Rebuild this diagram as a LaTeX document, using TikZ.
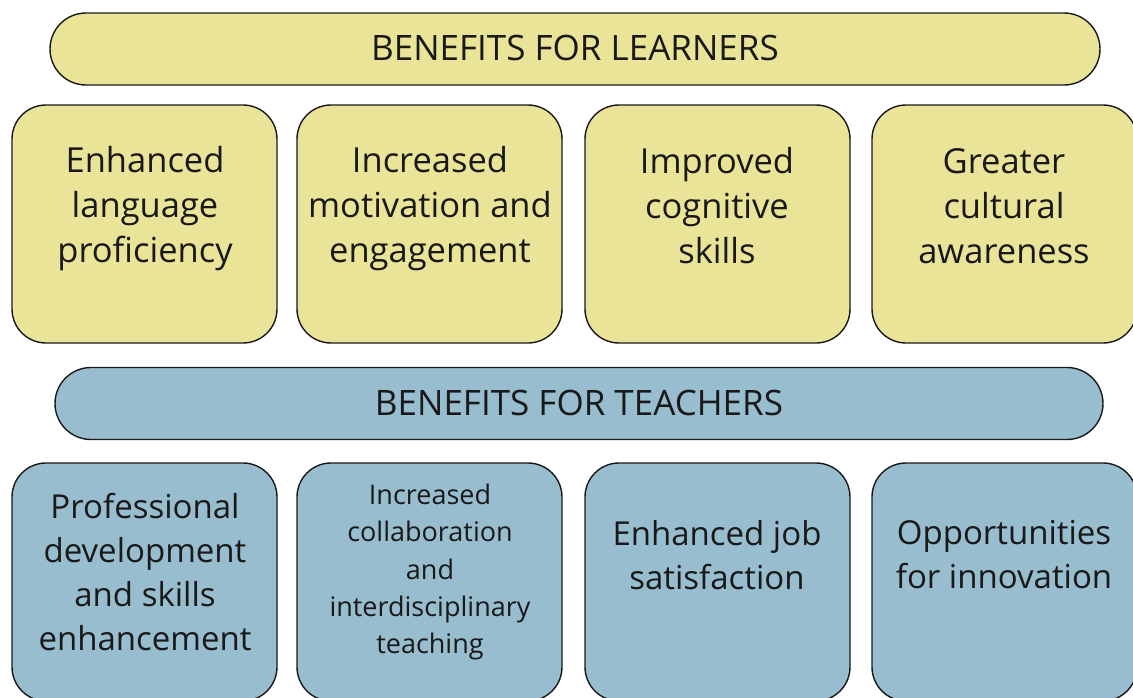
\documentclass[tikz,border=0pt]{standalone}
\usepackage{fontspec}
\setmainfont{Open Sans}
\definecolor{ylw}{RGB}{234,228,153}
\definecolor{blu}{RGB}{151,189,206}
\definecolor{ink}{RGB}{25,25,25}
\tikzset{
  banner/.style={draw=ink, line width=1.4pt, rounded corners=36pt, minimum width=#1, minimum height=72pt, inner sep=0pt},
  card/.style={draw=ink, line width=1.4pt, rounded corners=34pt, minimum width=265pt, minimum height=238pt, inner sep=0pt},
  bigtxt/.style={text=ink, align=center, font=\fontsize{34.5}{45}\selectfont, inner sep=0pt},
  midtxt/.style={text=ink, align=center, font=\fontsize{33}{44}\selectfont, inner sep=0pt},
  smalltxt/.style={text=ink, align=center, font=\fontsize{27}{37.2}\selectfont, inner sep=0pt},
  headtxt/.style={text=ink, font=\fontsize{35}{40}\selectfont, inner sep=0pt}
}
\begin{document}
\begin{tikzpicture}[x=1pt,y=-1pt]
\useasboundingbox (0,0) rectangle (1133,697);
\fill[white] (0,0) rectangle (1133,697);
% learners
\node[banner=1050pt, fill=ylw] (bl) at (575,49) {};
\node[headtxt] (blt) at (575,48) {BENEFITS FOR LEARNERS};
\node[card, fill=ylw] (l1) at (144.5,224) {};
\node[card, fill=ylw] (l2) at (429.5,224) {};
\node[card, fill=ylw] (l3) at (717.5,224) {};
\node[card, fill=ylw] (l4) at (1004.5,224) {};
\node[bigtxt] (l1t) at (145,209) {Enhanced\\language\\proficiency};
\node[bigtxt] (l2t) at (430,209) {Increased\\motivation and\\engagement};
\node[bigtxt] (l3t) at (717,205.5) {Improved\\cognitive\\skills};
\node[bigtxt] (l4t) at (1004,206) {Greater\\cultural\\awareness};
% teachers
\node[banner=1048pt, fill=blu] (bt) at (579,403.5) {};
\node[headtxt] (btt) at (579,402.5) {BENEFITS FOR TEACHERS};
\node[card, fill=blu] (t1) at (144.5,582) {};
\node[card, fill=blu] (t2) at (429.5,582) {};
\node[card, fill=blu] (t3) at (717.5,582) {};
\node[card, fill=blu] (t4) at (1004.5,582) {};
\node[midtxt] (t1t) at (145,572) {Professional\\development\\and skills\\enhancement};
\node[smalltxt] (t2t) at (430,572) {Increased\\collaboration\\and\\interdisciplinary\\teaching};
\node[midtxt] (t3t) at (717,555) {Enhanced job\\satisfaction};
\node[midtxt] (t4t) at (1004,555) {Opportunities\\for innovation};
\end{tikzpicture}
\end{document}
